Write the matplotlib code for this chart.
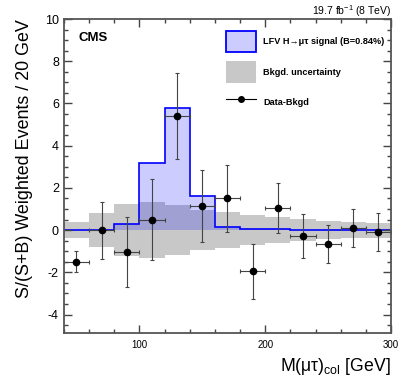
import matplotlib
matplotlib.use("Agg")
import matplotlib.pyplot as plt
from matplotlib.patches import Patch
from matplotlib.lines import Line2D
from matplotlib.ticker import MultipleLocator
import numpy as np

plt.rcParams['font.family'] = ['Liberation Sans', 'DejaVu Sans']
plt.rcParams['axes.unicode_minus'] = False
plt.rcParams['mathtext.default'] = 'regular'

# 20 GeV bins from 40 to 300
edges = np.arange(40, 301, 20)
centers = edges[:-1] + 10

# LFV H->mutau signal (B=0.84%)
signal = [0.0, 0.0, 0.28, 3.2, 5.77, 1.62, 0.17, 0.03, 0.03, 0.02, 0.02, 0.02, 0.02]
# background uncertainty half-width (band around zero)
bkg_unc = [0.37, 0.79, 1.23, 1.34, 1.18, 0.95, 0.84, 0.71, 0.60, 0.51, 0.44, 0.39, 0.36]
# data minus background
data = [-1.5, 0.0, -1.05, 0.5, 5.41, 1.16, 1.51, -1.96, 1.04, -0.27, -0.65, 0.1, -0.1]
data_err = [0.5, 1.35, 1.66, 1.93, 2.05, 1.7, 1.58, 1.28, 1.2, 1.04, 0.9, 0.92, 0.89]

unc = np.array(bkg_unc)

fig = plt.figure(figsize=(3.99, 3.84), dpi=100)
ax = fig.add_axes([0.160, 0.133, 0.820, 0.8175])

ax.stairs(unc, edges, baseline=-unc, fill=True, color='#c8c8c8', lw=0)
ax.stairs(signal, edges, baseline=0, fill=True, color='blue', alpha=0.2, lw=0)
ax.stairs(signal, edges, baseline=0, color='blue', lw=1.2)
ax.errorbar(centers, data, xerr=10, yerr=data_err, fmt='o', color='k',
            ms=4.5, ecolor='#444444', elinewidth=0.8, capsize=1.5, capthick=0.8)

ax.set_xlim(40, 300)
ax.set_ylim(-4.87, 10)
ax.xaxis.set_major_locator(MultipleLocator(100))
ax.xaxis.set_minor_locator(MultipleLocator(20))
ax.yaxis.set_major_locator(MultipleLocator(2))
ax.yaxis.set_minor_locator(MultipleLocator(0.5))
ax.tick_params(which='both', direction='in', top=True, right=True, color='#444444')
ax.tick_params(which='major', length=6, width=1)
ax.tick_params(which='minor', length=3, width=1)
ax.tick_params(axis='x', labelsize=7, pad=5)
ax.tick_params(axis='y', labelsize=9)
for s in ax.spines.values():
    s.set_color('#555555')
    s.set_linewidth(1.3)

ax.set_ylabel('S/(S+B) Weighted Events / 20 GeV', fontsize=12.9, loc='top')
ax.yaxis.set_label_coords(-0.095, 1.0)
ax.set_xlabel('M(μτ)$_{col}$ [GeV]', fontsize=12.7, loc='right')
ax.xaxis.set_label_coords(1.0, -0.075)

ax.text(0.045, 0.94, 'CMS', transform=ax.transAxes, fontsize=9.5,
        fontweight='bold', va='center', ha='left')
ax.text(1.0, 1.013, '19.7 fb$^{-1}$ (8 TeV)', transform=ax.transAxes,
        fontsize=7.5, ha='right', va='baseline')

handles = [Patch(facecolor=(0.8, 0.8, 1.0), edgecolor='blue', lw=1.3),
           Patch(facecolor='#c8c8c8', edgecolor='none'),
           Line2D([], [], color='k', lw=0.8, marker='o', ms=4)]
labels = ['LFV H→μτ signal (B=0.84%)', 'Bkgd. uncertainty', 'Data-Bkgd']
leg = ax.legend(handles, labels, loc='upper left', bbox_to_anchor=(0.495, 0.962),
                frameon=False, borderpad=0, borderaxespad=0,
                handlelength=3.3, handleheight=3.2, labelspacing=1.0,
                handletextpad=0.75, prop={'size': 6.6, 'weight': 'bold'})

fig.savefig('out.png', dpi=100)
